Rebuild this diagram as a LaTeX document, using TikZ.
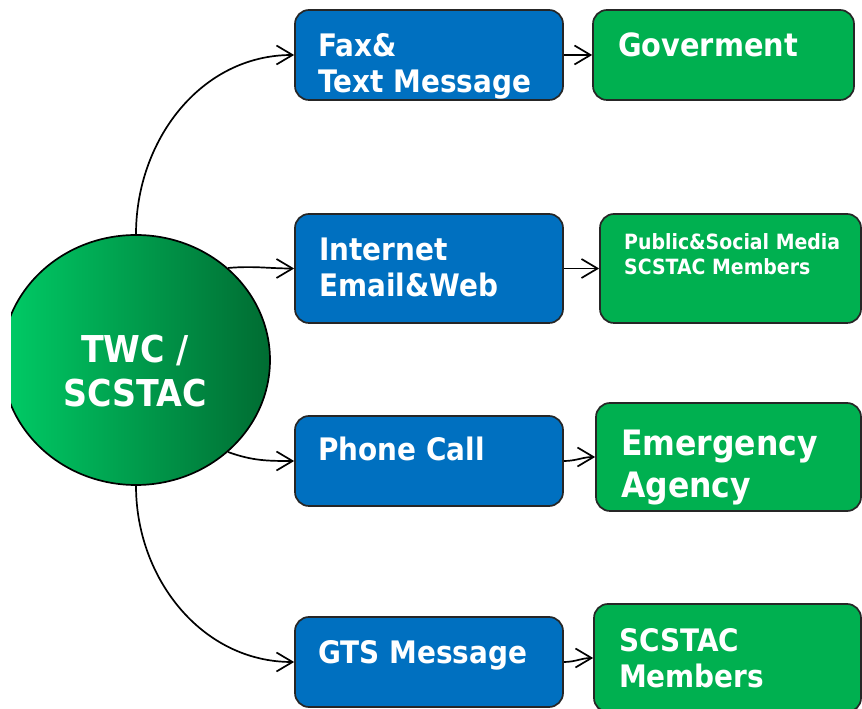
\documentclass[tikz,border=0pt]{standalone}
\usepackage{fontspec}
\setmainfont{DejaVu Sans}[FakeStretch=0.9]
\usepackage{xcolor}
\usetikzlibrary{shapes.geometric,arrows.meta}
\definecolor{chanblue}{RGB}{0,112,192}
\definecolor{destgreen}{RGB}{0,176,80}
\definecolor{hubleft}{RGB}{0,204,102}
\definecolor{hubright}{RGB}{0,108,50}

\begin{document}
\begin{tikzpicture}[x=1pt,y=1pt,
		hub/.style={ellipse, draw, line width=1.7pt, left color=hubleft, right color=hubright, minimum width=268pt, minimum height=250pt, inner sep=0pt},
		chanbox/.style={draw=black!85, line width=1.7pt, rounded corners=14pt, fill=chanblue, minimum width=268pt, minimum height=90pt, inner sep=0pt},
		destbox/.style={draw=black!85, line width=1.7pt, rounded corners=14pt, fill=destgreen, inner sep=0pt},
		boxtext/.style={anchor=base west, align=left, text=white, inner sep=0pt, font=\bfseries\fontsize{31}{36}\selectfont},
		link/.style={line width=1.7pt, -{Straight Barb[length=16pt,width=19pt]}}]
		\useasboundingbox (0,0) rectangle (862,709);
		
		\begin{scope}
			\clip (11,0) rectangle (300,709);
			\node[hub] (twc) at (136,349) {};
		\end{scope}
		\node[anchor=base, align=center, text=white, inner sep=0pt, font=\bfseries\fontsize{37}{44}\selectfont] (twct) at (135,302) {TWC /\\SCSTAC};
		
		\node[chanbox] (fax) at (429,654) {};
		\node[chanbox, minimum height=109pt] (inet) at (429,440.5) {};
		\node[chanbox] (phone) at (429,248) {};
		\node[chanbox] (gts) at (429,47) {};
		
		\node[destbox, minimum width=261pt, minimum height=90pt] (gov) at (723.5,654) {};
		\node[destbox, minimum width=261pt, minimum height=109pt] (pub) at (730.5,440.5) {};
		\node[destbox, minimum width=265pt, minimum height=108pt] (emer) at (728.5,252) {};
		\node[destbox, minimum width=267pt, minimum height=108pt] (mem) at (727.5,51) {};
		
		\node[boxtext] (faxt) at (318,616) {Fax\&\\Text Message};
		\node[boxtext] (inett) at (319,412) {Internet\\Email\&Web};
		\node[boxtext] (phonet) at (318,248) {Phone Call};
		\node[boxtext] (gtst) at (318,45) {GTS Message};
		
		\node[boxtext, font=\bfseries\fontsize{32}{38}\selectfont] (govt) at (618,652) {Goverment};
		\node[boxtext, font=\bfseries\fontsize{21}{25}\selectfont] (pubt) at (624,434) {Public\&Social Media\\SCSTAC Members};
		\node[boxtext, font=\bfseries\fontsize{35}{42}\selectfont] (emert) at (621,211) {Emergency\\Agency};
		\node[boxtext] (memt) at (619,21) {SCSTAC\\Members};
		
		\draw[link] (twc.north) to[out=90,in=180] (fax.west);
		\draw[link] (twc.45) to[out=5,in=180] (inet.west);
		\draw[link] (twc.-45) to[out=-20,in=180] (phone.west);
		\draw[link] (twc.south) to[out=-90,in=180] (gts.west);
		
		\draw[link] (fax.east) -- (gov.west);
		\draw[link] (inet.east) -- (pub.west);
		\draw[link] (phone.east) to[out=0,in=180] (emer.west);
		\draw[link] (gts.east) to[out=0,in=180] (mem.west);
	\end{tikzpicture}
\end{document}
